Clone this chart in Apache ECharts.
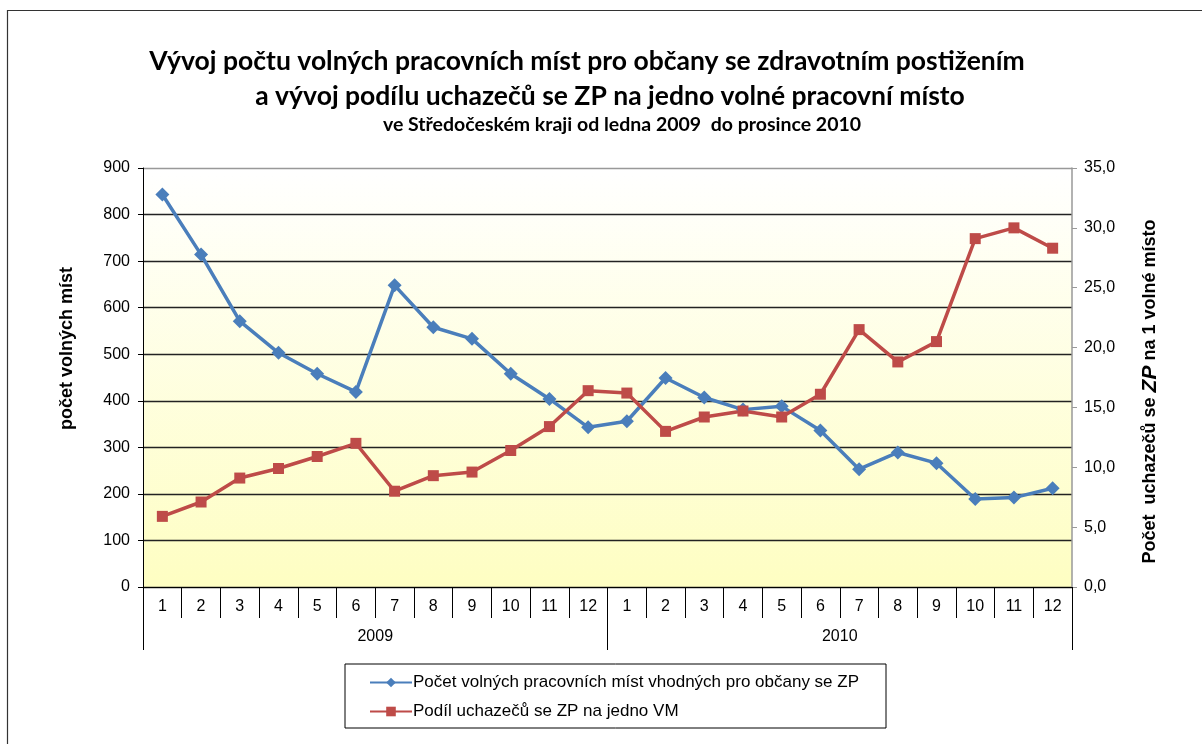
<!DOCTYPE html>
<html>
<head>
<meta charset="utf-8">
<script src="https://cdn.jsdelivr.net/npm/echarts@6/dist/echarts.min.js"></script>
<style>
html,body{margin:0;padding:0;background:#fff;}
#chart{width:1202px;height:744px;}
</style>
</head>
<body>
<div id="chart"></div>
<script>
// ---- data ----
var months = ['1','2','3','4','5','6','7','8','9','10','11','12','1','2','3','4','5','6','7','8','9','10','11','12'];
var years = ['2009','2010'];
var seriesNames = ['Počet volných pracovních míst vhodných pro občany se ZP', 'Podíl uchazečů se ZP na jedno VM'];
var vacancies = [843, 714, 571, 503, 458, 419, 648, 558, 533, 458, 404, 343,
                 356, 449, 407, 381, 388, 336, 253, 289, 266, 189, 192, 212];
var applicantsPerVacancy = [5.9, 7.1, 9.1, 9.9, 10.9, 12.0, 8.0, 9.3, 9.6, 11.4, 13.4, 16.4,
                            16.2, 13.0, 14.2, 14.7, 14.2, 16.1, 21.5, 18.8, 20.5, 29.1, 30.0, 28.3];
var leftTicks = {min: 0, max: 900, interval: 100};
var rightTicks = {min: 0, max: 35, interval: 5};
var titleLines = [
  'Vývoj počtu volných pracovních míst pro občany se zdravotním postižením',
  'a vývoj podílu uchazečů se ZP na jedno volné pracovní místo',
  've Středočeském kraji od ledna 2009  do prosince 2010'
];
var leftAxisName = 'počet volných míst';

var chart = echarts.init(document.getElementById('chart'), null, {renderer: 'canvas'});
var axisFont = 'Liberation Sans, Arial, sans-serif';
var titleFont = 'Lato, Carlito, Calibri, sans-serif';

var option = {
  backgroundColor: '#ffffff',
  animation: false,
  graphic: [
    {type: 'rect', shape: {x: 7.5, y: 10.5, width: 1220, height: 760}, style: {fill: 'none', stroke: '#333', lineWidth: 1.2}, silent: true, z: -1},
    {type: 'text', x: 587, y: 61, style: {text: titleLines[0], font: 'bold 26.5px ' + titleFont, fill: '#000', textAlign: 'center', textVerticalAlign: 'middle'}},
    {type: 'text', x: 610, y: 96, style: {text: titleLines[1], font: 'bold 26.5px ' + titleFont, fill: '#000', textAlign: 'center', textVerticalAlign: 'middle'}},
    {type: 'text', x: 622, y: 125, style: {text: titleLines[2], font: 'bold 19.5px ' + titleFont, fill: '#000', textAlign: 'center', textVerticalAlign: 'middle'}}
  ],
  grid: {
    left: 143, right: 130, top: 168, bottom: 157,
    show: true,
    borderWidth: 0,
    backgroundColor: new echarts.graphic.LinearGradient(0, 0, 0, 1, [
      {offset: 0, color: '#FFFFFF'},
      {offset: 1, color: '#FEFEC2'}
    ])
  },
  legend: {
    orient: 'vertical',
    left: 345, top: 664,
    width: 540,
    padding: [10, 27, 8, 24],
    itemGap: 12,
    itemWidth: 42, itemHeight: 12,
    borderColor: '#000', borderWidth: 1,
    textStyle: {fontFamily: axisFont, fontSize: 17, color: '#000', padding: [0, 0, 0, -4]},
    data: seriesNames
  },
  xAxis: [
    {
      type: 'category', data: months, position: 'bottom',
      axisLine: {show: true, lineStyle: {color: '#000', width: 1}},
      axisTick: {show: true, length: 31, interval: 0, lineStyle: {color: '#000'}},
      axisLabel: {interval: 0, margin: 12, fontFamily: axisFont, fontSize: 16, color: '#000'},
      splitLine: {show: false}
    },
    {
      type: 'category', data: years, position: 'bottom',
      axisLine: {show: false},
      axisTick: {show: true, length: 63, lineStyle: {color: '#000'}},
      axisLabel: {margin: 42, fontFamily: axisFont, fontSize: 16, color: '#000'},
      splitLine: {show: false}
    }
  ],
  yAxis: [
    {
      type: 'value', min: leftTicks.min, max: leftTicks.max, interval: leftTicks.interval,
      position: 'left',
      name: leftAxisName, nameLocation: 'middle', nameGap: 67, nameRotate: 90,
      nameTextStyle: {fontFamily: axisFont, fontSize: 18, fontWeight: 'bold', color: '#000', padding: [0, 0, 0, 58]},
      axisLine: {show: true, lineStyle: {color: '#000', width: 1}},
      axisTick: {show: true, length: 5, lineStyle: {color: '#000'}},
      axisLabel: {margin: 13, fontFamily: axisFont, fontSize: 16, color: '#000'},
      splitLine: {show: true, lineStyle: {width: 1.3, color: ['#222','#222','#222','#222','#222','#222','#222','#222','#222','#999']}}
    },
    {
      type: 'value', min: rightTicks.min, max: rightTicks.max, interval: rightTicks.interval,
      position: 'right',
      name: '{a|Počet  uchazečů se }{b|ZP}{a| na 1 volné místo}', nameLocation: 'middle', nameGap: 68, nameRotate: 90,
      nameTextStyle: {
        padding: [0, 28, 0, 0],
        rich: {
          a: {fontFamily: axisFont, fontSize: 18, fontWeight: 'bold', color: '#000'},
          b: {fontFamily: axisFont, fontSize: 21, fontWeight: 'bold', fontStyle: 'italic', color: '#000'}
        }
      },
      axisLine: {show: true, lineStyle: {color: '#999', width: 1.5}},
      axisTick: {show: true, length: 5, lineStyle: {color: '#999'}},
      axisLabel: {margin: 12, fontFamily: axisFont, fontSize: 16, color: '#000',
        formatter: function (v) { return v.toFixed(1).replace('.', ','); }},
      splitLine: {show: false}
    }
  ],
  series: [
    {
      name: seriesNames[0], type: 'line', xAxisIndex: 0, yAxisIndex: 0,
      data: vacancies,
      symbol: 'diamond', symbolSize: 14,
      lineStyle: {color: '#4A7EBB', width: 3.5},
      itemStyle: {color: '#4A7EBB'}
    },
    {
      name: seriesNames[1], type: 'line', xAxisIndex: 0, yAxisIndex: 1,
      data: applicantsPerVacancy,
      symbol: 'rect', symbolSize: 11,
      lineStyle: {color: '#BE4B48', width: 3.5},
      itemStyle: {color: '#BE4B48'}
    }
  ]
};
chart.setOption(option);
</script>
</body>
</html>
